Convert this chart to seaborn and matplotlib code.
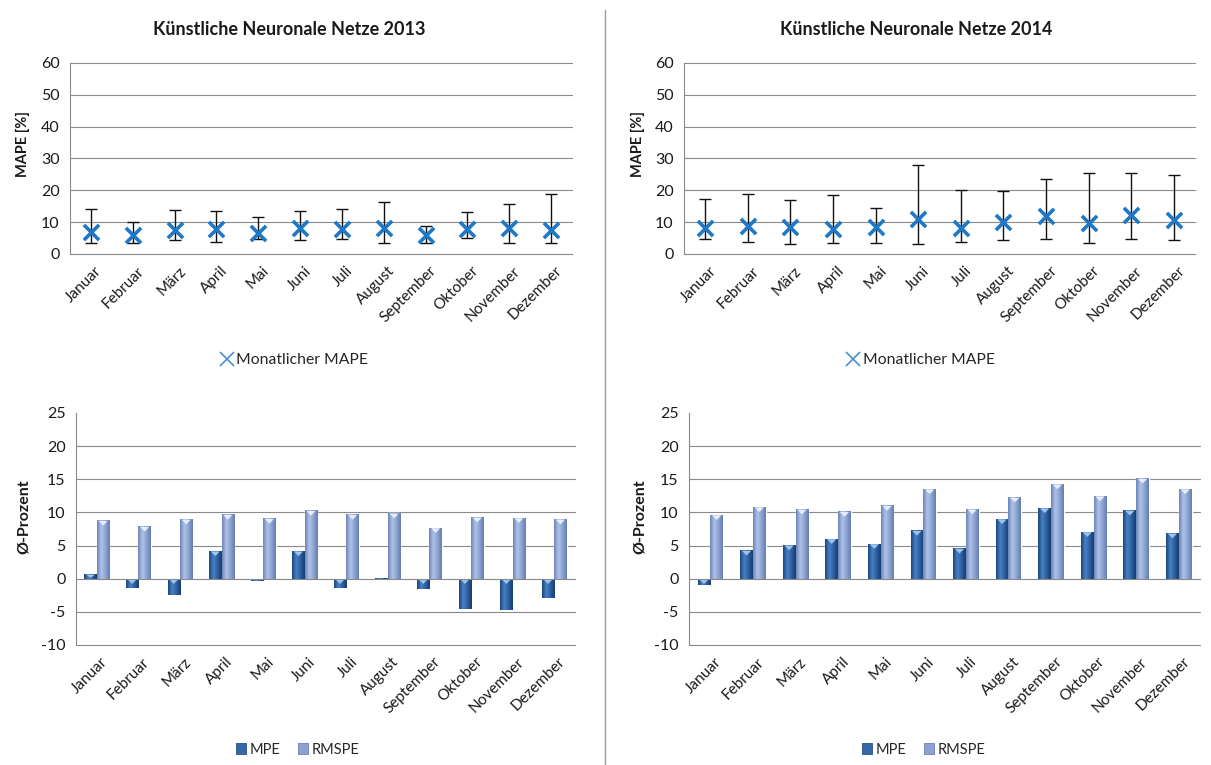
import numpy as np
import pandas as pd
import matplotlib
matplotlib.use("Agg")
import matplotlib.pyplot as plt
import matplotlib.transforms as mtransforms
from matplotlib.colors import LinearSegmentedColormap, to_hex
from matplotlib.lines import Line2D
from matplotlib.patches import Patch, Polygon
import seaborn as sns

# ---------------------------------------------------------------- data
months = ["Januar", "Februar", "März", "April", "Mai", "Juni", "Juli",
          "August", "September", "Oktober", "November", "Dezember"]

# monthly MAPE with its range (min / max of the daily errors)
mape_2013 = [6.8, 6.1, 7.6, 7.9, 6.6, 8.3, 7.9, 8.3, 6.1, 7.9, 8.2, 7.5]
mape_2013_low = [3.4, 3.4, 4.3, 3.9, 4.7, 4.3, 4.6, 3.5, 3.5, 5.0, 3.5, 3.5]
mape_2013_high = [14.2, 10.2, 13.8, 13.5, 11.6, 13.5, 14.2, 16.2, 8.9, 13.2, 15.8, 18.8]

mape_2014 = [8.2, 8.8, 8.4, 7.9, 8.4, 11.0, 8.1, 10.2, 11.9, 9.6, 12.3, 10.6]
mape_2014_low = [4.6, 3.9, 3.0, 3.5, 3.5, 3.0, 3.9, 4.3, 4.6, 3.5, 4.6, 4.3]
mape_2014_high = [17.3, 18.8, 16.9, 18.4, 14.3, 27.9, 20.2, 19.9, 23.4, 25.5, 25.5, 24.9]

# mean percentage error and root mean squared percentage error
mpe_2013 = [0.7, -1.4, -2.4, 4.2, -0.3, 4.2, -1.4, 0.05, -1.6, -4.5, -4.7, -2.9]
rmspe_2013 = [8.8, 7.9, 9.0, 9.7, 9.1, 10.3, 9.7, 9.9, 7.7, 9.3, 9.2, 9.0]
mpe_2014 = [-1.0, 4.3, 5.1, 6.05, 5.3, 7.3, 4.6, 9.05, 10.7, 7.1, 10.35, 6.9]
rmspe_2014 = [9.65, 10.85, 10.5, 10.15, 11.05, 13.55, 10.5, 12.3, 14.3, 12.5, 15.15, 13.55]

titles = ["Künstliche Neuronale Netze 2013", "Künstliche Neuronale Netze 2014"]

# ---------------------------------------------------------------- style
sns.set_style("white")
plt.rcParams["font.family"] = ["Lato", "DejaVu Sans"]
plt.rcParams["font.size"] = 10

GRID = "#8a8a8a"
TXT = "#1a1a1a"
X_BLUE = "#1f78c6"
MPE_COL = "#3467a8"
RMSPE_COL = "#8aa2d2"
shading = {
    to_hex(MPE_COL): (LinearSegmentedColormap.from_list(
        "mpe", ["#1a437c", "#4a82c4", "#2c5fa1", "#173b6e"]), "#a6c8f2"),
    to_hex(RMSPE_COL): (LinearSegmentedColormap.from_list(
        "rmspe", ["#6b83b6", "#b0c3e8", "#8ca4d3", "#657cae"]), "#eaf1fc"),
}

fig = plt.figure(figsize=(12.11, 7.65), dpi=100)

top_boxes = [(0.0578, 0.668, 0.4145, 0.2497), (0.5648, 0.668, 0.4220, 0.2497)]
bot_boxes = [(0.0628, 0.1569, 0.4120, 0.3033), (0.5690, 0.1569, 0.4220, 0.3033)]
title_x = [0.2386, 0.7564]
ylab_x = [0.019, 0.527]
legend_x = [0.242, 0.759]


def style_axes(ax, yticks, gridvals, zero_axis):
    ax.set_xlim(-0.5, len(months) - 0.5)
    ax.set_ylim(yticks[0], yticks[-1])
    ax.set_yticks(yticks)
    ax.set_yticklabels([f"{v:g}" for v in yticks], color=TXT, fontsize=11.5)
    for v in gridvals:
        ax.axhline(v, color=GRID, lw=0.8, zorder=0.5, clip_on=False)
    for s in ("top", "right"):
        ax.spines[s].set_visible(False)
    ax.spines["left"].set_color(GRID)
    ax.spines["left"].set_linewidth(0.8)
    ax.spines["bottom"].set_color(GRID)
    ax.spines["bottom"].set_linewidth(0.8)
    ax.spines["bottom"].set_position(("data", zero_axis))
    ax.set_xticks(np.arange(-0.5, len(months), 1.0))
    ax.set_xticklabels([])
    ax.tick_params(axis="x", direction="out", length=4.5, width=0.8, color=GRID)
    ax.tick_params(axis="y", direction="out", length=4.5, width=0.8, color=GRID, pad=3)
    ax.set_xlabel("")
    ax.set_ylabel("")
    # month names along the bottom edge of the plot area
    trans = ax.get_xaxis_transform() + mtransforms.ScaledTranslation(
        0.04, -7 / 72, fig.dpi_scale_trans)
    for i, m in enumerate(months):
        ax.text(i, 0, m, transform=trans, rotation=45, ha="right", va="top",
                rotation_mode="anchor", fontsize=11, color=TXT)


# ---------------------------------------------------------------- MAPE panels
mape_sets = [(mape_2013, mape_2013_low, mape_2013_high),
             (mape_2014, mape_2014_low, mape_2014_high)]
for k, (vals, lo, hi) in enumerate(mape_sets):
    ax = fig.add_axes(top_boxes[k])
    df = pd.DataFrame({"Monat": months, "MAPE": vals})
    pos = np.arange(len(months))
    v = np.array(vals)
    ax.errorbar(pos, v, yerr=[v - np.array(lo), np.array(hi) - v], fmt="none",
                ecolor="#111111", elinewidth=1.0, capsize=4.5, capthick=1.0, zorder=2)
    sns.scatterplot(data=df, x="Monat", y="MAPE", marker="x", s=120,
                    color=X_BLUE, linewidth=2.6, zorder=3, ax=ax, legend=False)
    style_axes(ax, list(range(0, 61, 10)), list(range(10, 61, 10)), 0)
    fig.text(title_x[k], 0.962, titles[k], ha="center", va="center",
             fontsize=13, fontweight="bold", color=TXT)
    fig.text(ylab_x[k], 0.812, "MAPE [%]", rotation=90, ha="center", va="center",
             fontsize=10.5, fontweight="bold", color=TXT)
    handle = Line2D([], [], marker="x", linestyle="none", color="#4a90d2",
                    markersize=10, markeredgewidth=1.2)
    fig.legend([handle], ["Monatlicher MAPE"], loc="center",
               bbox_to_anchor=(legend_x[k], 0.529), frameon=False,
               fontsize=11.3, handletextpad=0.0, handlelength=1.2)

# ---------------------------------------------------------------- MPE / RMSPE panels
bar_sets = [(mpe_2013, rmspe_2013), (mpe_2014, rmspe_2014)]
for k, (mpe, rmspe) in enumerate(bar_sets):
    ax = fig.add_axes(bot_boxes[k])
    df = pd.DataFrame({
        "Monat": months * 2,
        "Wert": list(mpe) + list(rmspe),
        "Kennzahl": ["MPE"] * len(months) + ["RMSPE"] * len(months),
    })
    sns.barplot(data=df, x="Monat", y="Wert", hue="Kennzahl", order=months,
                hue_order=["MPE", "RMSPE"],
                palette={"MPE": MPE_COL, "RMSPE": RMSPE_COL}, saturation=1,
                width=0.6, gap=0, errorbar=None, legend=False, zorder=2, ax=ax)
    # cylinder-like shading and a light bevel on top of every bar
    cap_h = 0.8
    for patch in list(ax.patches):
        style = shading.get(to_hex(patch.get_facecolor()))
        if style is None:
            continue
        cmap, cap_col = style
        x0, w = patch.get_x(), patch.get_width()
        y0, h = patch.get_y(), patch.get_height()
        lo_y, hi_y = min(y0, y0 + h), max(y0, y0 + h)
        grad = np.linspace(0, 1, 64).reshape(1, -1)
        im = ax.imshow(grad, cmap=cmap, aspect="auto", zorder=2.1,
                       extent=[x0, x0 + w, lo_y, hi_y], interpolation="bicubic")
        im.set_clip_path(patch)
        if hi_y - lo_y > 0.2:
            ch = min(cap_h, (hi_y - lo_y) * 0.8)
            tri = Polygon([[x0 + 0.14 * w, hi_y - 0.1], [x0 + 0.86 * w, hi_y - 0.1],
                           [x0 + 0.5 * w, hi_y - ch]], closed=True,
                          facecolor=cap_col, edgecolor="none", zorder=2.2, alpha=0.95)
            ax.add_patch(tri)
    style_axes(ax, list(range(-10, 26, 5)), [-10, -5, 5, 10, 15, 20], 0)
    fig.text(ylab_x[k] + 0.001, 0.324, "Ø-Prozent", rotation=90, ha="center",
             va="center", fontsize=11.5, fontweight="bold", color=TXT)
    handles = [Patch(facecolor=MPE_COL, edgecolor="#2a4f80", linewidth=0.6),
               Patch(facecolor=RMSPE_COL, edgecolor="#6f82a8", linewidth=0.6)]
    fig.legend(handles, ["MPE", "RMSPE"], loc="center",
               bbox_to_anchor=(legend_x[k] + 0.004, 0.020), ncol=2, frameon=False,
               fontsize=10.5, handlelength=0.7, handleheight=0.7,
               handletextpad=0.25, columnspacing=1.2)

# divider between the two years
fig.add_artist(Line2D([0.4996, 0.4996], [0.0, 0.987], transform=fig.transFigure,
                      color="#9a9a9a", lw=1.0))

fig.savefig("out.png", dpi=100)
